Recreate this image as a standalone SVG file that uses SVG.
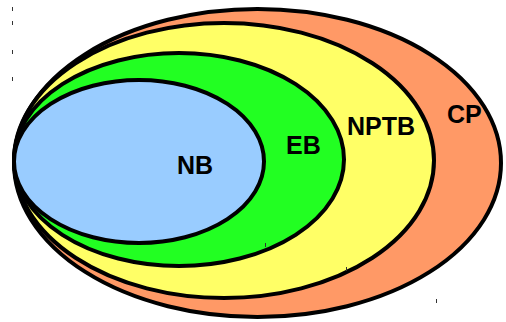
<svg xmlns="http://www.w3.org/2000/svg" width="506" height="322" viewBox="0 0 506 322">
<style>
.set{stroke:#000;stroke-width:4}
.lbl{font-family:"Liberation Sans",Arial,sans-serif;font-weight:bold;font-size:25px;fill:#000}
.tick{stroke:#333;stroke-width:1}
</style>
<rect width="506" height="322" fill="#fff"/>
<g id="CP">
<ellipse class="set" cx="257.5" cy="163" rx="243.5" ry="154" fill="#FF9966"/>
<text class="lbl" x="447" y="123">CP</text>
</g>
<g id="NPTB">
<ellipse class="set" cx="224" cy="160.5" rx="210" ry="137.5" fill="#FFFF66"/>
<text class="lbl" x="347" y="135">NPTB</text>
</g>
<g id="EB">
<ellipse class="set" cx="179" cy="159.5" rx="165" ry="106.5" fill="#22FF22"/>
<text class="lbl" x="286" y="154">EB</text>
</g>
<g id="NB">
<ellipse class="set" cx="139" cy="161.5" rx="125" ry="81.5" fill="#99CCFF"/>
<text class="lbl" x="177" y="174">NB</text>
</g>
<g id="ticks">
<line class="tick" x1="12.5" y1="7" x2="12.5" y2="11"/>
<line class="tick" x1="12.5" y1="21" x2="12.5" y2="25"/>
<line class="tick" x1="12.5" y1="50" x2="12.5" y2="54"/>
<line class="tick" x1="12.5" y1="77" x2="12.5" y2="81"/>
<line class="tick" x1="265.5" y1="243" x2="265.5" y2="247"/>
<line class="tick" x1="346.5" y1="267" x2="346.5" y2="271"/>
<line class="tick" x1="436.5" y1="299" x2="436.5" y2="303"/>
</g>
<g id="connectors"/>
</svg>
